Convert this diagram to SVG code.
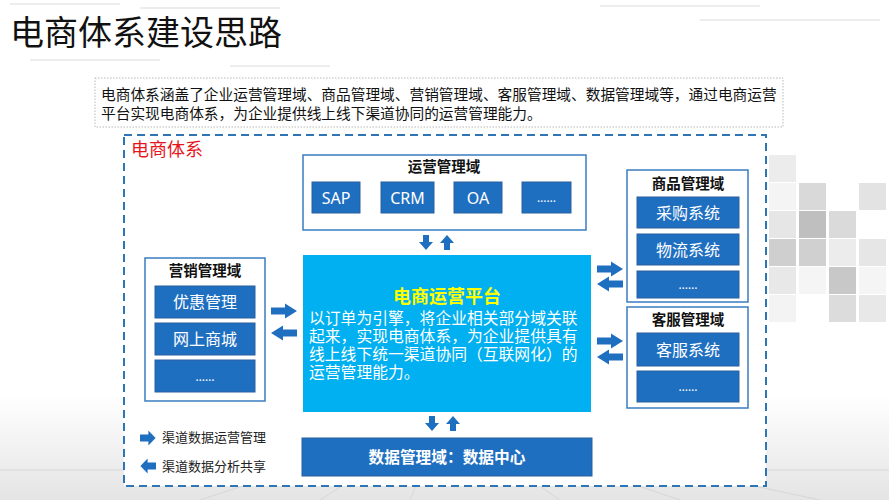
<svg xmlns="http://www.w3.org/2000/svg" xmlns:xlink="http://www.w3.org/1999/xlink" width="889" height="500" viewBox="0 0 889 500">
<defs>
<linearGradient id="floor" x1="0" y1="0" x2="0" y2="1">
<stop offset="0" stop-color="#ffffff"/>
<stop offset="1" stop-color="#e4e4e4"/>
</linearGradient>
<path id="arR" d="M0,-3.5 H14 V-7.5 L26,0 L14,7.5 V3.5 H0 Z"/>
<path id="arD" d="M-3,0 H3 V7 H7 L0,15 L-7,7 H-3 Z"/>
</defs>
<style>
.cjk{font-family:"Noto Sans CJK SC","Noto Sans",sans-serif}
.dom{fill:#ffffff;stroke:#3a7cc0;stroke-width:1.5}
.sub{fill:#1f6fc1;stroke:#2a5f9e;stroke-width:1}
.dt{font-family:"Noto Sans CJK SC",sans-serif;font-size:14.5px;font-weight:bold;fill:#111;text-anchor:middle}
.st{font-family:"Noto Sans CJK SC","Noto Sans",sans-serif;font-size:16px;fill:#ffffff;text-anchor:middle}
.dots{font-family:"Noto Sans",sans-serif;font-size:12px;fill:#ffffff;text-anchor:middle}
.arw{fill:#1f6fc1}
.sq{stroke:none}
</style>
<!-- background -->
<rect x="0" y="0" width="889" height="500" fill="#ffffff"/>
<rect x="0" y="395" width="889" height="105" fill="url(#floor)"/>
<g stroke="#d4d4d4" stroke-width="1" fill="none" opacity="0.8">
<line x1="444" y1="420" x2="200" y2="500"/>
<line x1="444" y1="420" x2="320" y2="500"/>
<line x1="444" y1="420" x2="410" y2="500"/>
<line x1="444" y1="420" x2="560" y2="500"/>
<line x1="444" y1="420" x2="680" y2="500"/>
<line x1="444" y1="420" x2="820" y2="500"/>
<line x1="0" y1="470" x2="889" y2="470"/>
</g>
<g stroke="#ececec" stroke-width="2" opacity="0.9">
<line x1="10" y1="4" x2="120" y2="4"/>
<line x1="140" y1="8" x2="280" y2="8"/>
<line x1="30" y1="60" x2="160" y2="60"/>
<line x1="230" y1="66" x2="330" y2="66"/>
<line x1="600" y1="6" x2="760" y2="6"/>
<line x1="700" y1="20" x2="880" y2="20"/>
</g>
<g class="sq">
<rect x="769" y="155" width="27" height="27" fill="#ececec"/>
<rect x="769" y="183" width="27" height="27" fill="#f4f4f4"/>
<rect x="799" y="183" width="27" height="27" fill="#d9d9d9"/>
<rect x="859" y="183" width="27" height="27" fill="#e3e3e3"/>
<rect x="769" y="211" width="27" height="27" fill="#e6e6e6"/>
<rect x="799" y="211" width="27" height="27" fill="#bfbfbf"/>
<rect x="829" y="211" width="27" height="27" fill="#dadada"/>
<rect x="769" y="239" width="27" height="27" fill="#cfcfcf"/>
<rect x="799" y="239" width="27" height="27" fill="#d0d0d0"/>
<rect x="829" y="239" width="27" height="27" fill="#ececec"/>
<rect x="859" y="239" width="27" height="27" fill="#e6e6e6"/>
<rect x="769" y="267" width="27" height="27" fill="#e8e8e8"/>
<rect x="799" y="267" width="27" height="27" fill="#f5f5f5"/>
<rect x="829" y="267" width="27" height="27" fill="#c8c8c8"/>
<rect x="859" y="267" width="27" height="27" fill="#f5f5f5"/>
<rect x="769" y="295" width="27" height="27" fill="#f3f3f3"/>
<rect x="829" y="295" width="27" height="27" fill="#dcdcdc"/>
<rect x="859" y="295" width="27" height="27" fill="#e8e8e8"/>
</g>
<!-- title -->
<text x="10" y="45" class="cjk" font-size="34" fill="#111">电商体系建设思路</text>
<!-- description -->
<g id="desc">
<rect x="95" y="78" width="688" height="49" fill="#ffffff" stroke="#b8b8b8" stroke-width="1" stroke-dasharray="1.5,1.5"/>
<text x="101" y="100" class="cjk" font-size="14.7" fill="#111">电商体系涵盖了企业运营管理域、商品管理域、营销管理域、客服管理域、数据管理域等，通过电商运营</text>
<text x="101" y="119" class="cjk" font-size="14.7" fill="#111">平台实现电商体系，为企业提供线上线下渠道协同的运营管理能力。</text>
</g>
<!-- outer system -->
<g id="system">
<rect x="124" y="135" width="642" height="351" fill="#ffffff" stroke="#2e75b6" stroke-width="2" stroke-dasharray="8,5"/>
<text x="131" y="156" class="cjk" font-size="18" fill="#e8141c">电商体系</text>
</g>
<!-- ops domain -->
<g id="ops">
<rect class="dom" x="303" y="155" width="283" height="75"/>
<text class="dt" x="444" y="172">运营管理域</text>
<rect class="sub" x="312" y="182" width="48" height="31"/>
<text x="336" y="203.5" fill="#fff" font-family="Noto Sans,sans-serif" font-size="16" text-anchor="middle">SAP</text>
<rect class="sub" x="381" y="182" width="53" height="31"/>
<text x="407.5" y="203.5" fill="#fff" font-family="Noto Sans,sans-serif" font-size="16" text-anchor="middle">CRM</text>
<rect class="sub" x="454" y="182" width="48" height="31"/>
<text x="478" y="203.5" fill="#fff" font-family="Noto Sans,sans-serif" font-size="16" text-anchor="middle">OA</text>
<rect class="sub" x="522" y="182" width="49" height="31"/>
<text class="dots" x="546.5" y="202">……</text>
</g>
<!-- marketing domain -->
<g id="marketing">
<rect class="dom" x="145" y="258" width="120" height="143"/>
<text class="dt" x="205" y="276">营销管理域</text>
<rect class="sub" x="155" y="286" width="100" height="32"/>
<text class="st" x="205" y="308">优惠管理</text>
<rect class="sub" x="155" y="323" width="100" height="32"/>
<text class="st" x="205" y="345">网上商城</text>
<rect class="sub" x="155" y="360" width="100" height="32"/>
<text class="dots" x="205" y="381">……</text>
</g>
<!-- goods domain -->
<g id="goods">
<rect class="dom" x="627" y="170" width="121" height="132"/>
<text class="dt" x="688" y="189">商品管理域</text>
<rect class="sub" x="637" y="197" width="102" height="31"/>
<text class="st" x="688" y="218.5">采购系统</text>
<rect class="sub" x="637" y="234" width="102" height="31"/>
<text class="st" x="688" y="255.5">物流系统</text>
<rect class="sub" x="637" y="271" width="102" height="27"/>
<text class="dots" x="688" y="289">……</text>
</g>
<!-- service domain -->
<g id="service">
<rect class="dom" x="627" y="307" width="121" height="101"/>
<text class="dt" x="688" y="325">客服管理域</text>
<rect class="sub" x="637" y="333" width="102" height="33"/>
<text class="st" x="688" y="355.5">客服系统</text>
<rect class="sub" x="637" y="371" width="102" height="31"/>
<text class="dots" x="688" y="391">……</text>
</g>
<!-- platform -->
<g id="platform">
<rect x="303" y="255" width="288" height="157" fill="#00b0f0"/>
<text x="447" y="303" class="cjk" font-size="18" font-weight="bold" fill="#ffff00" text-anchor="middle">电商运营平台</text>
<g class="cjk" font-size="15.8" fill="#ffffff">
<text x="309" y="324">以订单为引擎，将企业相关部分域关联</text>
<text x="309" y="342">起来，实现电商体系，为企业提供具有</text>
<text x="309" y="360">线上线下统一渠道协同（互联网化）的</text>
<text x="309" y="378">运营管理能力。</text>
</g>
</g>
<!-- data domain -->
<g id="data">
<rect x="302" y="438" width="290" height="38" fill="#1f6fc1" stroke="#2a5f9e" stroke-width="1"/>
<text x="447" y="463" class="cjk" font-size="15.7" font-weight="bold" fill="#ffffff" text-anchor="middle">数据管理域：数据中心</text>
</g>
<!-- connectors -->
<g id="connectors" class="arw">
<use xlink:href="#arD" transform="translate(426,235)"/>
<use xlink:href="#arD" transform="translate(447,250) rotate(180)"/>
<use xlink:href="#arR" transform="translate(271,311)"/>
<use xlink:href="#arR" transform="translate(297,333) scale(-1,1)"/>
<use xlink:href="#arR" transform="translate(597,269)"/>
<use xlink:href="#arR" transform="translate(623,284) scale(-1,1)"/>
<use xlink:href="#arR" transform="translate(597,341)"/>
<use xlink:href="#arR" transform="translate(623,357) scale(-1,1)"/>
<use xlink:href="#arD" transform="translate(432,416)"/>
<use xlink:href="#arD" transform="translate(453,431) rotate(180)"/>
</g>
<!-- legend -->
<g id="legend">
<use xlink:href="#arR" class="arw" transform="translate(140,438) scale(0.6,1)"/>
<text x="162" y="442" class="cjk" font-size="13" fill="#222">渠道数据运营管理</text>
<use xlink:href="#arR" class="arw" transform="translate(156,466) scale(-0.6,1)"/>
<text x="162" y="471" class="cjk" font-size="13" fill="#222">渠道数据分析共享</text>
</g>
</svg>
